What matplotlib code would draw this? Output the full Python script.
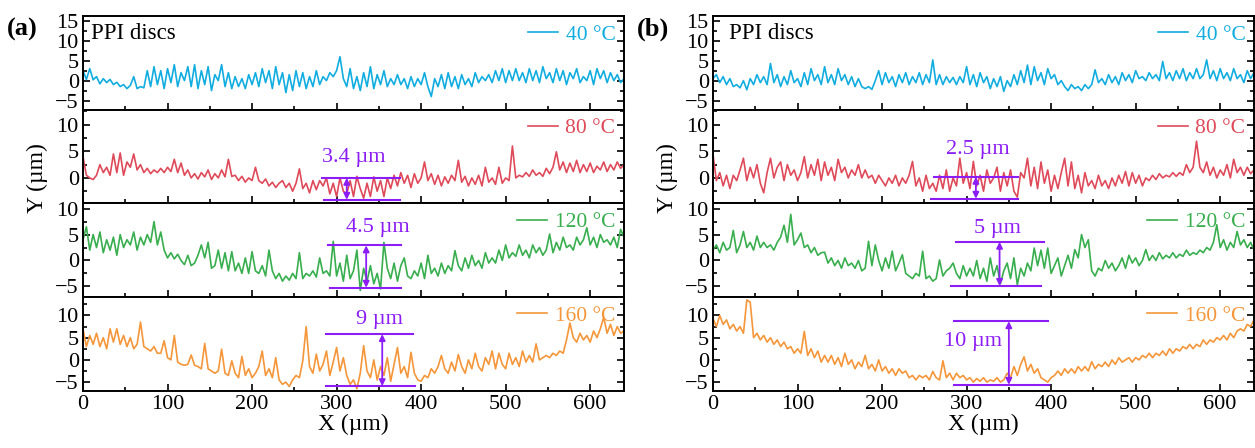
import numpy as np
import matplotlib
matplotlib.use('Agg')
import matplotlib.pyplot as plt
from matplotlib.ticker import MultipleLocator, AutoMinorLocator

plt.rcParams['font.family'] = ['Liberation Serif', 'DejaVu Serif']

temps = ['40 °C', '80 °C', '120 °C', '160 °C']
colors = ['#12ADE0', '#DF4A5A', '#38AE4E', '#F49639']
purple = '#8C1EF5'

# surface profiles, every 4 um from 0 to 640 um
a40 = [2.5, 0.3, 3.0, 0.2, 1.0, -0.8, 0.5, -0.5, 0.3, -1.0,
       -0.4, -1.5, -1.0, -2.0, -1.2, 1.0, -2.0, -1.5, -1.8, 2.5,
       -1.5, 3.5, -1.0, 2.5, -2.0, 3.0, -0.5, 4.0, -1.5, 2.0,
       0.0, 3.5, -1.5, 4.0, -2.0, 2.5, -1.0, 3.5, -2.5, 1.5,
       0.0, 4.0, -1.5, 2.0, -2.0, 1.0, -1.5, 0.5, -2.0, 1.5,
       -1.0, 2.0, -1.5, 3.0, -0.5, 2.5, -2.0, 3.5, -1.0, 2.0,
       -3.0, 1.5, -2.5, 2.5, -1.5, 2.0, -2.0, 1.0, -1.5, 2.5,
       -1.0, 1.0, 0.0, 2.0, 1.0, 2.5, 6.0, 0.5, -1.5, 3.0,
       -2.0, 1.0, -2.5, 2.0, -1.5, 3.5, -2.0, 1.5, -1.0, 2.5,
       -1.5, 0.5, -1.0, 1.5, -1.0, 0.5, -2.0, 1.0, -1.5, 0.5,
       -1.0, 2.0, -1.5, -4.0, 0.5, -1.5, 1.5, -2.0, 2.0, -1.5,
       1.0, -2.0, 1.5, -1.0, 0.5, -1.5, 2.0, -0.5, 1.0, 0.0,
       1.5, -0.5, 2.5, 0.0, 3.0, -0.5, 2.5, 0.0, 3.0, 0.0,
       2.0, -0.5, 3.0, 0.0, 2.5, -0.5, 3.5, 0.5, 2.0, -0.5,
       3.0, 0.0, 2.5, -1.0, 2.0, 0.5, 3.0, -0.5, 1.0, 0.0,
       2.5, -1.0, 3.0, 0.5, 2.5, -0.5, 2.0, 0.0, 1.5, -0.5,
       0.5]
a80 = [4.0, 0.5, 0.0, -0.3, 0.5, 2.5, 1.0, 2.0, 0.5, 4.5,
       1.0, 4.7, 0.5, 3.0, 2.0, 4.5, 1.5, 2.5, 1.0, 1.8,
       0.8, 1.5, 1.0, 1.8, 1.0, 2.0, 1.2, 3.5, 1.0, 2.8,
       0.5, 1.5, 0.0, 0.8, -0.2, 1.0, 0.2, 1.5, -0.3, 0.8,
       0.0, 1.5, 0.2, 3.5, 0.3, 0.5, -0.5, 0.3, -0.8, 0.0,
       -0.5, 2.0, -0.5, -1.0, -0.2, -1.5, -0.8, -1.8, -1.0, -0.5,
       -1.8, -1.0, -2.5, -1.0, 1.7, -2.0, -1.0, -2.8, -0.5, -2.2,
       -0.5, -1.5, 0.0, -3.0, -1.0, -3.5, 0.0, -2.5, -3.0, -0.5,
       -3.5, 0.3, -2.0, -3.8, -1.0, -3.5, 0.2, -2.5, -0.5, -3.5,
       0.0, -2.0, 0.5, -1.5, 1.0, -1.0, 0.5, -1.8, 0.8, -1.0,
       0.0, 3.0, -0.5, 0.8, -1.2, 0.5, -1.5, 0.2, -1.0, 0.5,
       -0.5, 3.3, -0.8, 0.3, -1.5, 0.0, -1.2, 0.5, -1.5, 2.0,
       -0.8, 0.0, -1.2, 2.0, -1.0, 0.0, -0.5, 6.0, 0.0, 0.5,
       0.2, 1.0, 0.3, 1.5, 0.5, 1.0, 0.3, 1.8, 0.8, 2.0,
       4.9, 1.5, 3.0, 1.0, 2.8, 1.2, 3.3, 1.0, 2.5, 1.2,
       2.8, 1.0, 2.2, 1.5, 3.0, 1.2, 2.5, 1.5, 3.0, 1.8,
       2.5]
a120 = [4.0, 6.5, 2.0, 5.0, 2.5, 5.5, 1.5, 4.0, 2.0, 4.5,
        1.0, 5.0, 2.5, 4.0, 3.0, 5.5, 2.0, 4.5, 3.0, 5.0,
        3.5, 7.5, 3.0, 5.5, 2.0, 0.5, 1.5, 0.3, 1.2, 0.0,
        -0.8, 1.0, -1.0, -0.5, 1.0, 3.0, 0.5, 3.5, -1.5, -1.0,
        2.0, -1.5, 1.5, -2.0, 1.7, -2.0, -0.5, -2.5, 0.5, -2.5,
        1.7, -2.0, -2.5, -1.0, -3.0, 2.0, -2.0, -3.5, -2.5, -4.0,
        -3.0, -3.8, -2.5, -3.5, 1.5, -3.5, -2.5, -3.0, -2.0, -3.2,
        0.5, -2.5, -2.0, -3.0, 3.7, -3.0, -0.5, -4.0, 1.0, -3.5,
        -2.0, 2.0, -5.8, -1.5, -4.0, -1.0, -4.5, -2.5, -5.5, 3.5,
        -1.5, -3.5, -0.5, -4.0, -1.0, 0.5, -3.0, -3.5, -2.0, -3.0,
        -0.5, -3.5, 1.0, -2.5, -1.5, -3.0, -0.5, -2.5, -1.0, -2.0,
        1.9, -1.0, -2.0, 0.5, -1.5, 1.0, -1.0, 0.0, -1.5, 1.5,
        -0.5, 0.5, -0.5, 2.0, 0.0, 3.0, 0.5, 1.5, 0.8, 3.0,
        1.0, 2.0, 0.5, 3.0, 1.5, 2.5, 1.0, 2.0, 5.1, 1.5,
        3.5, 2.0, 4.5, 2.5, 3.0, 2.0, 4.5, 3.0, 4.0, 6.3,
        3.0, 4.5, 2.5, 5.0, 3.5, 4.0, 3.0, 4.5, 2.5, 6.0,
        4.5]
a160 = [7.0, 3.0, 5.5, 3.5, 6.0, 3.0, 5.0, 2.5, 7.0, 4.0,
        7.0, 3.5, 5.5, 3.0, 5.0, 2.5, 3.5, 8.5, 3.0, 2.5,
        2.0, 3.0, 1.5, 1.5, 4.3, 0.5, 0.0, 5.5, -0.5, -1.0,
        -1.2, -1.0, 1.1, -1.2, -1.5, -2.0, 3.7, -2.0, -2.5, -3.0,
        -2.5, 2.4, -3.0, -3.5, -0.2, -3.0, -4.0, 0.8, -3.5, -2.0,
        -4.0, -3.0, -1.5, 2.0, -3.5, -2.0, -4.0, 0.5, -4.5, -5.5,
        -5.0, -6.0, -4.5, -3.5, -4.0, -0.2, 7.5, -1.5, -3.0, 1.3,
        -2.5, -1.0, 2.0, -3.5, -0.5, 2.8, -2.5, 0.5, -3.5, -5.5,
        -4.5, -6.5, -3.0, 3.2, -2.5, -4.0, 0.0, -4.5, -1.5, -3.5,
        0.5, -4.8, -1.0, 2.8, -3.0, -1.5, -4.0, 1.7, -3.0, -4.5,
        -4.8, -3.5, -4.0, -2.0, -3.0, -1.5, 1.0, -2.0, -3.0, -0.5,
        -2.5, 1.2, -1.5, -3.0, 0.0, -2.0, 1.5, -1.5, -2.5, 0.5,
        -1.0, 2.0, -2.0, 1.5, -1.0, -2.0, 1.5, -1.0, 0.5, -1.5,
        2.0, -0.5, 1.0, -0.5, 3.6, 0.0, 0.5, 1.0, 0.5, 1.5,
        1.0, 2.0, 1.5, 4.5, 8.3, 5.0, 4.0, 6.0, 4.5, 5.5,
        4.0, 6.5, 5.0, 7.0, 9.6, 6.0, 8.0, 5.5, 7.5, 6.0,
        6.5]

b40 = [0.5, 1.5, -0.5, 1.0, -1.0, 0.5, -1.5, -1.0, -1.8, 0.0,
       -2.3, 0.5, -1.0, 1.5, -0.5, 1.0, -1.0, 4.3, -0.5, 1.5,
       -1.5, 1.0, -1.0, 2.5, -0.5, 0.5, -1.5, 2.0, -1.0, 3.0,
       0.0, 1.5, -1.0, 3.5, -0.5, 1.5, -1.0, 3.0, 0.0, 1.5,
       -1.0, 1.0, -1.5, 0.5, -1.5, -2.0, -1.5, -2.2, 0.0, 2.5,
       -1.0, 2.0, -0.5, 1.0, -1.5, 1.5, -0.5, 2.0, -1.0, 1.0,
       -0.5, 2.0, -1.0, 1.5, -0.5, 5.2, -1.0, 1.5, -1.0, 1.0,
       -0.5, 0.8, -1.0, 1.0, -0.5, 3.5, -1.0, 1.5, -1.5, 2.0,
       -0.5, 1.0, -2.0, 0.5, -1.5, 1.0, -2.7, 0.0, -1.5, 1.5,
       -1.0, 2.5, -0.5, 3.9, -1.0, 3.5, 0.0, 2.0, -1.0, 3.0,
       0.5, 1.5, -1.0, 0.0, -1.5, -2.5, -1.0, -2.0, -1.5, -2.5,
       -1.0, -2.0, -1.0, 2.7, -0.5, 0.5, -1.0, 1.5, -0.5, 1.0,
       -1.0, 2.0, 0.0, 1.5, -0.5, 2.5, 0.5, 1.0, 0.0, 2.0,
       0.5, 1.5, 0.0, 4.8, 0.5, 2.0, 0.0, 2.5, 0.5, 3.0,
       0.0, 2.0, 0.5, 3.0, 0.5, 1.5, 5.2, 0.5, 2.5, 0.0,
       3.0, 0.5, 2.0, 0.0, 3.0, 0.5, 1.5, -0.5, 2.5, 0.5,
       2.0]
b80 = [4.4, -0.5, 1.0, -1.5, 0.5, -2.0, 0.5, -0.5, 1.5, 3.7,
       -0.5, 2.0, 0.0, 2.5, -1.0, -2.8, 1.0, 3.7, 0.0, 2.0,
       3.0, -0.5, 2.5, 0.5, 1.5, -0.5, 1.0, 4.0, 0.0, 2.5,
       0.5, 3.5, -0.5, 3.0, 0.5, 2.0, -0.5, 3.5, 1.0, 2.0,
       0.0, 1.5, 0.5, 2.5, 0.0, 1.5, 0.0, 0.5, -1.0, 0.5,
       -0.5, -1.5, 0.0, -1.0, 0.5, -1.5, 0.0, -1.0, 0.5, 3.1,
       -1.5, 0.0, -2.5, 0.5, -2.0, -1.0, -2.5, 0.5, -2.0, 1.5,
       -2.5, 0.0, -1.5, 3.7, -1.0, 1.0, -2.0, 3.1, -1.5, 0.5,
       -2.5, 1.5, -1.0, 0.0, 2.0, -2.5, 1.0, -1.5, 1.5, -2.5,
       -3.6, 1.0, 0.0, 3.7, -1.5, 2.0, -2.0, 3.0, -1.0, 1.5,
       -2.5, 0.5, -2.0, 1.0, 3.7, -1.5, 3.0, -2.0, 0.5, -2.8,
       1.0, -1.5, -0.5, -2.0, 0.5, -1.5, -0.5, -2.0, 0.0, -1.5,
       0.5, -1.0, 1.2, -1.5, 1.0, -1.0, 0.5, -1.5, 0.0, -0.5,
       0.5, -0.3, 0.8, 0.0, 0.5, 0.2, 1.0, 0.3, 1.0, 0.5,
       2.5, 1.0, 2.0, 6.9, 2.0, 1.0, 3.0, 0.5, 2.0, 0.0,
       1.5, 0.5, 2.5, 0.0, 3.5, 1.0, 2.0, 0.5, 2.0, 0.8,
       1.5]
b120 = [2.0, 3.0, 1.5, 3.5, 2.0, 2.5, 5.8, 1.5, 3.0, 5.6,
        2.5, 3.5, 2.0, 4.7, 2.5, 3.5, 2.5, 3.0, 2.0, 3.5,
        4.5, 6.8, 3.5, 8.9, 3.0, 4.0, 5.3, 2.5, 3.0, 1.5,
        2.5, 1.0, 1.5, 1.6, -0.5, 0.5, -1.0, 0.0, -1.5, 0.5,
        -1.0, -0.5, -1.5, 0.0, -2.0, -1.5, 3.7, -1.0, 3.0, 0.0,
        -2.0, 0.5, -1.5, 1.8, -2.0, -0.5, 1.1, -2.5, -3.0, -3.5,
        -2.5, -3.0, 1.8, -3.5, -3.0, -4.0, -3.5, 0.1, -3.0, -2.0,
        -1.5, -0.5, -2.5, -3.5, -1.0, -3.0, -1.5, -3.0, 0.0, -3.5,
        -1.5, -4.0, 0.5, -3.0, -1.0, -4.5, -2.0, -0.5, -3.5, 0.5,
        -4.7, -1.5, -3.0, -0.5, -2.0, 2.4, -1.0, 2.0, -1.5, 2.4,
        -2.5, -1.0, 0.5, -3.0, -1.0, 1.0, -1.5, 2.1, 0.5, 5.0,
        2.5, 4.0, -2.0, -3.0, -1.5, -2.0, 0.0, -1.5, -0.5, -2.0,
        -1.0, 0.5, -1.5, 1.0, -0.5, 0.5, -1.0, 0.0, 2.1, 0.0,
        1.0, 0.0, 1.5, 0.3, 1.0, 0.5, 1.5, 0.5, 1.2, 0.8,
        2.0, 1.0, 1.5, 1.2, 2.0, 1.5, 2.5, 2.0, 3.5, 6.9,
        2.5, 4.0, 2.0, 3.5, 2.5, 5.6, 3.0, 4.0, 2.5, 3.5,
        2.0]
b160 = [9.3, 7.5, 10.0, 8.0, 9.0, 7.0, 8.0, 6.5, 7.5, 6.0,
        13.5, 13.0, 5.0, 6.0, 4.5, 5.5, 4.0, 5.0, 3.5, 4.5,
        3.0, 4.0, 2.5, 3.0, 1.5, 2.5, 1.5, 6.4, 1.0, 2.5,
        0.5, 2.0, -0.5, 1.0, -0.5, 1.0, -1.0, 0.5, -1.5, 1.5,
        -1.0, 0.0, -2.0, -0.5, -1.5, 1.0, -2.0, -1.0, -2.5, 0.0,
        -2.5, -1.5, -3.0, -2.0, -3.5, -2.0, -3.0, -2.5, -4.0, -3.5,
        -4.5, -3.5, -4.0, -3.5, -4.5, -2.6, -4.0, -4.5, -0.2, -4.0,
        -3.0, -4.5, -3.0, -4.0, -3.5, -4.5, -4.0, -5.0, -4.2, -4.8,
        -4.0, -5.0, -4.5, -4.8, -4.0, -5.0, -4.5, -3.0, -4.0, -1.5,
        -3.5, -1.0, 0.7, -2.5, -1.0, -3.0, -2.0, -4.0, -4.5, -5.0,
        -4.0, -3.5, -2.5, -3.5, -2.0, -3.0, -2.0, -3.0, -1.5, -2.5,
        -1.5, -2.5, -0.4, -2.0, -1.0, -1.5, -0.5, -1.5, 0.0, -1.0,
        0.5, -0.5, 0.0, 0.5, -0.5, 0.5, 0.0, 1.0, 0.5, 1.5,
        0.5, 1.5, 1.0, 2.0, 1.0, 2.5, 1.5, 2.5, 2.0, 3.0,
        2.5, 3.5, 2.5, 3.5, 3.0, 4.5, 3.5, 4.5, 4.0, 5.0,
        4.5, 5.5, 4.5, 6.0, 5.0, 6.5, 7.0, 6.5, 8.0, 7.5,
        9.0]

# peak-to-valley marks: row, label, text (x, y), top line (y, x0, x1), bottom line (y, x0, x1), arrow x
marks_a = [(1, '3.4 µm', 320, 3.8, 0.0, 283, 375, -4.1, 285, 375, 312),
           (2, '4.5 µm', 349, 6.4, 2.9, 290, 376, -5.25, 292, 376, 335),
           (3, '9 µm', 351, 9.1, 5.8, 287, 390, -5.9, 288, 393, 354)]
marks_b = [(1, '2.5 µm', 313, 5.4, 0.2, 262, 361, -3.9, 258, 361, 311),
           (2, '5 µm', 337, 6.2, 3.6, 287, 392, -4.9, 281, 388, 339),
           (3, '10 µm', 308, 4.2, 8.7, 285, 396, -5.6, 285, 398, 350)]

ylims = [(-7.3, 16.2), (-4.8, 12.8), (-7.1, 11.0), (-7.0, 14.1)]

W, H = 1255, 448
fig = plt.figure(figsize=(W / 100, H / 100), dpi=100)


def draw_panel(left_px, profiles, marks, tag, ppi_x):
    axes = []
    row_h = 93.75
    for i, y in enumerate(profiles):
        top = 16 + i * row_h
        ax = fig.add_axes([left_px / W, 1 - (top + row_h) / H, 541 / W, row_h / H])
        x = np.linspace(0, 640, len(y))
        ax.plot(x, y, color=colors[i], lw=1.2, label=temps[i])
        ax.set_xlim(0, 640)
        ax.set_ylim(*ylims[i])
        ax.xaxis.set_major_locator(MultipleLocator(100))
        ax.xaxis.set_minor_locator(MultipleLocator(50))
        ax.yaxis.set_major_locator(MultipleLocator(5))
        ax.yaxis.set_minor_locator(AutoMinorLocator(2))
        ax.tick_params(which='both', direction='in', right=True, width=1.2,
                       labelsize=16, pad=3)
        ax.tick_params(which='major', length=5)
        ax.tick_params(which='minor', length=3)
        for s in ax.spines.values():
            s.set_linewidth(1.4)
        if i < 3:
            ax.tick_params(labelbottom=False)
        ax.legend(loc='upper right', frameon=False, fontsize=15.5,
                  handlelength=1.4, handletextpad=0.35,
                  borderaxespad=0.15, borderpad=0.25, labelcolor='linecolor')
        axes.append(ax)

    axes[-1].set_xlabel('X (µm)', fontsize=17, labelpad=0)
    axes[0].text(ppi_x, 0.81, 'PPI discs', transform=axes[0].transAxes,
                 fontsize=16.5, va='center', ha='left')
    fig.text((left_px - 76) / W, 1 - 29 / H, tag, fontsize=19,
             fontweight='bold', va='center', ha='left')
    fig.text((left_px - 46) / W, 1 - 178 / H, 'Y (µm)', rotation=90,
             fontsize=17, va='center', ha='center')

    for row, lab, tx, ty, yt, xt0, xt1, yb, xb0, xb1, xa in marks:
        ax = axes[row]
        ax.plot([xt0, xt1], [yt, yt], color=purple, lw=1.5)
        ax.plot([xb0, xb1], [yb, yb], color=purple, lw=1.5)
        ax.annotate('', xy=(xa, yt), xytext=(xa, yb),
                    arrowprops=dict(arrowstyle='<|-|>', color=purple, lw=1.3,
                                    mutation_scale=9, shrinkA=0, shrinkB=0))
        ax.text(tx, ty, lab, color=purple, fontsize=16, ha='center', va='center')


draw_panel(83, [a40, a80, a120, a160], marks_a, '(a)', 0.015)
draw_panel(713, [b40, b80, b120, b160], marks_b, '(b)', 0.029)

fig.savefig('out.png', dpi=100)
